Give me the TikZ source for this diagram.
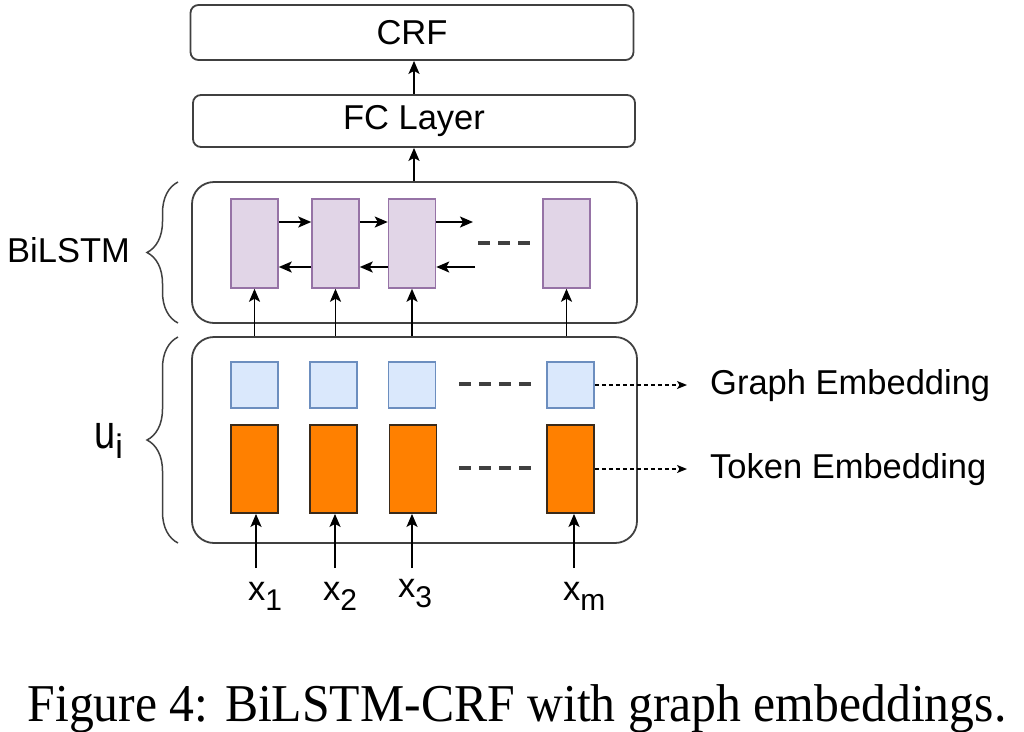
\documentclass[tikz,border=0pt]{standalone}
\usepackage{fontspec}
\usepackage{graphicx}
\setmainfont{Liberation Sans}
\newfontfamily\capfont{Liberation Serif}
\usetikzlibrary{arrows.meta,decorations.pathreplacing,calc}
\definecolor{purfill}{HTML}{E1D5E7}
\definecolor{purdraw}{HTML}{9673A6}
\definecolor{bluefill}{HTML}{DAE8FC}
\definecolor{bluedraw}{HTML}{6C8EBF}
\definecolor{orfill}{HTML}{FF8000}
\definecolor{ordraw}{HTML}{3A2A1A}
\definecolor{edge}{HTML}{404040}
\begin{document}
\begin{tikzpicture}[x=1pt,y=-1pt,
  txt/.style={font=\fontsize{34.5}{40}\selectfont, inner sep=0},
  layer/.style={draw=edge, line width=1.8pt, rounded corners=8pt, inner sep=0, font=\fontsize{34.5}{40}\selectfont},
  group/.style={draw=edge, line width=1.8pt, rounded corners=22pt, inner sep=0, minimum width=445pt},
  lstm/.style={draw=purdraw, fill=purfill, line width=1.5pt, minimum width=47pt, minimum height=89pt, inner sep=0},
  gemb/.style={draw=bluedraw, fill=bluefill, line width=1.5pt, minimum width=47pt, minimum height=46pt, inner sep=0},
  temb/.style={draw=ordraw, fill=orfill, line width=1.8pt, minimum width=47pt, minimum height=88pt, inner sep=0},
  arr/.style={-{Stealth[length=13pt,width=11pt,inset=3pt]}, line width=1.9pt, black},
  dotarr/.style={-{Stealth[length=10pt,width=8pt,inset=2.5pt]}, line width=1.4pt, dash pattern=on 4pt off 3pt},
  dots/.style={line width=3.5pt, edge, dash pattern=on 12pt off 8pt},
  brc/.style={decorate, decoration={brace, amplitude=31pt}, line width=1.5pt, edge}
]
\useasboundingbox (0,0) rectangle (1024,731);

% layers
\node[layer, minimum width=443pt, minimum height=55pt] (crf) at (412,32.5) {CRF};
\node[layer, minimum width=442pt, minimum height=52pt] (fc) at (414,121) {FC Layer};
\node[group, minimum height=141pt] (bil) at (414.5,252.5) {};
\node[group, minimum height=206pt] (emb) at (414.5,440) {};

% BiLSTM cells
\node[lstm] (p1) at (254.5,243.5) {};
\node[lstm] (p2) at (335.5,243.5) {};
\node[lstm] (p3) at (412,243.5) {};
\node[lstm] (p4) at (566.5,243.5) {};

% graph embeddings
\node[gemb] (g1) at (254.5,385) {};
\node[gemb] (g2) at (333.5,385) {};
\node[gemb] (g3) at (412,385) {};
\node[gemb] (g4) at (570.5,385) {};

% token embeddings
\node[temb] (t1) at (254.5,469) {};
\node[temb] (t2) at (333.5,469) {};
\node[temb] (t3) at (413,469) {};
\node[temb] (t4) at (570.5,469) {};

% dashes
\draw[dots] (478,243) -- (530,243);
\draw[dots] (459,384) -- (531,384);
\draw[dots] (459,468) -- (531,468);

% arrows between layers
\draw[arr] (fc.north) -- (fc.north |- crf.south);
\draw[arr] (bil.north -| fc.north) -- (fc.south);

% up arrows embedding -> LSTM
\foreach \i in {1,2,3,4}{
  \draw[arr] (p\i.south |- emb.north) -- (p\i.south);
}

% forward / backward arrows
\draw[arr] ([yshift=21.5pt]p1.east) -- ([yshift=21.5pt]p2.west);
\draw[arr] ([yshift=21.5pt]p2.east) -- ([yshift=21.5pt]p3.west);
\coordinate (fend) at (473,222);
\draw[arr] ([yshift=21.5pt]p3.east) -- (fend);
\draw[arr] ([yshift=-23.5pt]p2.west) -- ([yshift=-23.5pt]p1.east);
\draw[arr] ([yshift=-23.5pt]p3.west) -- ([yshift=-23.5pt]p2.east);
\coordinate (bstart) at (475,267);
\draw[arr] (bstart) -- ([yshift=-23.5pt]p3.east);

% inputs
\newcommand{\subsc}[2][30]{\raisebox{-10pt}{\fontsize{#1}{#1}\selectfont #2}}
\node[txt, anchor=base west] (x1) at (248,600) {x\subsc{1}};
\node[txt, anchor=base west] (x2) at (323,600) {x\subsc{2}};
\node[txt, anchor=base west] (x3) at (398,597) {x\subsc{3}};
\node[txt, anchor=base west] (xm) at (563,600) {x\subsc{m}};
\coordinate (s1) at (256,568);
\coordinate (s2) at (335,568);
\coordinate (s3) at (412,568);
\coordinate (s4) at (574,568);
\draw[arr] (s1) -- (s1 |- t1.south);
\draw[arr] (s2) -- (s2 |- t2.south);
\draw[arr] (s3) -- (s3 |- t3.south);
\draw[arr] (s4) -- (s4 |- t4.south);

% side labels
\node[txt, anchor=base west] (ge) at (710,394) {Graph Embedding};
\node[txt, anchor=base west] (te) at (710,478) {Token Embedding};
\draw[dotarr, shorten >=23pt] (g4.east) -- (g4.east -| ge.west);
\draw[dotarr, shorten >=23pt] (t4.east) -- (t4.east -| te.west);

% braces
\draw[brc] (178,323) -- (178,182);
\draw[brc] (178,543) -- (178,337);
\node[txt, anchor=base west] (bl) at (7,262) {BiLSTM};
\node[txt, anchor=base west] (ui) at (94,448) {{\fontsize{38}{40}\selectfont\scalebox{1}[1.25]{u}}\subsc[34]{i}};

% caption
\node[font=\capfont\fontsize{49.7}{55}\selectfont, anchor=base, inner sep=0] (cap) at (517,721) {\scalebox{1}[1.07]{Figure 4: BiLSTM-CRF with graph embeddings.}};
\end{tikzpicture}
\end{document}
